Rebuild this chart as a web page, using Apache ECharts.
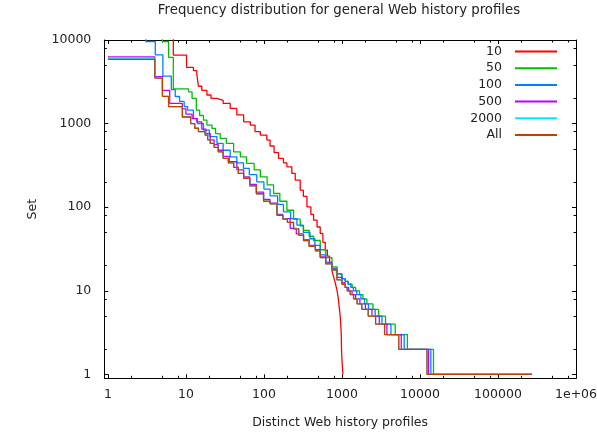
<!DOCTYPE html>
<html><head><meta charset="utf-8">
<script src="https://cdn.jsdelivr.net/npm/echarts@6/dist/echarts.min.js"></script>
<style>html,body{margin:0;padding:0;background:#fff}#c{width:597px;height:432px}</style>
</head><body><div id="c"></div>
<script>
// ---- data (x = distinct profiles, y = set) ----
const seriesNames = ['10', '50', '100', '500', '2000', 'All'];
const seriesColors = ['#ff0000', '#00c000', '#0080ff', '#c000ff', '#00eeee', '#c04000'];

const s10 = [[1, 40000], [6.9, 6600], [10.2, 4700], [12.5, 4300], [13.8, 3900], [14.5, 2800], [16, 2500], [18.6, 2200], [21, 2000], [25, 1900], [30, 1750], [37, 1520], [45, 1270], [55, 1050], [67, 960], [77, 800], [90, 730], [109, 635], [120, 540], [135, 450], [154, 383], [178, 340], [197, 304], [228, 254], [252, 211], [292, 160], [320, 135], [356, 101], [400, 82], [433, 70], [480, 58], [527, 48.6], [570, 38], [611, 30.7], [650, 26], [694, 21.3], [740, 18], [782, 14.7], [820, 12.5], [863, 10.2], [900, 8], [923, 6.4], [950, 5], [970, 3.7], [980, 3], [988, 2], [1000, 1.5], [1030, 1]];

const s50 = [[1, 15000], [5.0, 9600], [6.0, 6200], [6.9, 2600], [10.8, 2400], [12, 2000], [13.6, 1450], [15, 1250], [16.8, 1100], [18.6, 960], [21.6, 877], [24, 760], [27.5, 665], [33, 580], [40.9, 460], [50, 400], [60, 334], [75, 280], [90, 231], [110, 185], [133, 146], [160, 118], [197, 92], [240, 72], [292, 60], [322, 53], [380, 45], [433, 40], [527, 31], [620, 25], [745, 19.4], [870, 16], [1000, 14], [1100, 13], [1200, 12], [1350, 11], [1500, 10], [1680, 9], [1860, 8], [2090, 7], [2500, 6], [2950, 5], [3620, 4], [4820, 3], [6900, 2], [14900, 1], [273000, 1]];

const s100 = [[1, 12000], [3.07, 9600], [4.05, 6650], [5.07, 3700], [6.5, 2550], [7.3, 2110], [8.3, 1840], [9.5, 1600], [10.5, 1450], [12.5, 1150], [14, 1000], [16.8, 836], [20, 700], [25, 580], [30, 480], [37, 401], [45, 340], [54.7, 291], [65, 245], [81, 201], [100, 165], [120, 137], [150, 108], [178, 88], [220, 73], [265, 61], [320, 50], [390, 42], [450, 35], [527, 27], [620, 22], [745, 18.5], [850, 16], [1000, 14], [1100, 13], [1200, 12], [1300, 11], [1400, 10], [1550, 9], [1750, 8], [1950, 7], [2190, 6], [2670, 5], [3260, 4], [4250, 3], [6280, 2], [13800, 1], [273000, 1]];

const s500 = [[1, 6300], [4, 3650], [5, 2500], [6.2, 1750], [9, 1500], [10, 1300], [12, 1150], [13.8, 1050], [16, 860], [18, 760], [20.5, 640], [23, 560], [26, 480], [30, 405], [36, 350], [45, 280], [55, 230], [66, 188], [80, 152], [99, 124], [120, 112], [147, 82], [175, 73], [217, 56], [260, 48], [322, 41], [380, 35], [457, 31], [527, 25.5], [620, 21.5], [745, 18], [863, 14.5], [1000, 12.5], [1100, 11], [1220, 10], [1350, 9], [1500, 8], [1700, 7], [2000, 6], [2425, 5], [3010, 4], [3770, 3], [5760, 2], [12900, 1], [273000, 1]];

const s2000 = [[1, 6000], [4, 3500], [5, 2120], [6, 1600], [9, 1200], [11.5, 1000], [13, 880], [14.5, 800], [17.6, 730], [19, 640], [20.5, 580], [23, 520], [26, 460], [30, 384], [35, 340], [41, 300], [47, 254], [55, 221], [66, 180], [80, 145], [99, 118], [120, 110], [147, 80], [175, 72], [200, 66], [240, 55], [280, 46], [322, 40], [380, 34], [457, 30], [527, 25], [620, 21], [745, 17.7], [863, 13.5], [1000, 12], [1100, 11], [1167, 10], [1277, 9], [1410, 8], [1560, 7], [1800, 6], [2170, 5], [2700, 4], [3520, 3], [5350, 2], [12300, 1], [273000, 1]];

const sAll = [[1, 5870], [4, 3500], [5, 2120], [6, 1600], [9, 1200], [11.5, 1000], [13, 880], [14.5, 800], [17.6, 730], [19, 640], [20.5, 580], [23, 520], [26, 460], [30, 384], [35, 340], [41, 300], [47, 254], [55, 221], [66, 180], [80, 145], [99, 118], [120, 110], [147, 80], [175, 72], [200, 66], [240, 55], [280, 46], [322, 40], [380, 34], [457, 30], [527, 25], [620, 21], [745, 17.7], [863, 13.5], [1000, 12], [1100, 11], [1167, 10], [1277, 9], [1410, 8], [1560, 7], [1800, 6], [2170, 5], [2700, 4], [3520, 3], [5350, 2], [12300, 1], [273000, 1]];

const xMajorTicks = [1, 10, 100, 1000, 10000, 100000, 1000000];
const xTickLabels = ['1', '10', '100', '1000', '10000', '100000', '1e+06'];
const yMajorTicks = [1, 10, 100, 1000, 10000];
const yTickLabels = ['1', '10', '100', '1000', '10000'];
const minorFactors = [2, 5, 8];

const titleText = 'Frequency distribution for general Web history profiles';
const xName = 'Distinct Web history profiles';
const yName = 'Set';

// ---- chart ----
const FONT = 'DejaVu Sans';
const TXT = '#222';
const xMin = 0.9, xMax = 1000000, yMin = 0.9, yMax = 10000;

function minorList(majors) {
  const out = [];
  majors.forEach(m => minorFactors.forEach(f => out.push(m * f)));
  return out;
}
function labelFor(majors, labels) {
  return function (v) {
    const k = Math.round(Math.log10(v));
    const idx = majors.findIndex(m => Math.round(Math.log10(m)) === k);
    return idx >= 0 ? labels[idx] : '';
  };
}

function makeAxis(isX, pos, ticks, len, withLine, withLabels) {
  const ax = {
    type: 'log', logBase: 10, position: pos, gridIndex: 0,
    min: isX ? xMin : yMin, max: isX ? xMax : yMax,
    silent: true,
    axisLine: { show: withLine, onZero: false, lineStyle: { color: '#000', width: 1 } },
    axisTick: { show: true, inside: true, length: len, customValues: ticks, lineStyle: { color: '#000', width: 1 } },
    axisLabel: { show: false },
    splitLine: { show: false },
    minorTick: { show: false },
    minorSplitLine: { show: false }
  };
  if (withLabels) {
    ax.axisLabel = {
      show: true,
      customValues: isX ? xMajorTicks : yMajorTicks,
      formatter: isX ? labelFor(xMajorTicks, xTickLabels) : labelFor(yMajorTicks, yTickLabels),
      fontFamily: FONT, fontSize: 12.5, color: TXT,
      margin: isX ? 10 : 13,
      showMinLabel: true, showMaxLabel: true, hideOverlap: false
    };
    ax.name = isX ? xName : yName;
    ax.nameLocation = 'middle';
    ax.nameGap = isX ? 38 : 65;
    ax.nameTextStyle = { fontFamily: FONT, fontSize: 12.5, color: TXT };
  }
  return ax;
}

const xMinor = minorList(xMajorTicks).filter(v => v <= xMax);
const yMinor = minorList(yMajorTicks).filter(v => v <= yMax);

const seriesData = [s10, s50, s100, s500, s2000, sAll];

const chart = echarts.init(document.getElementById('c'), null, { renderer: 'canvas' });
chart.setOption({
  animation: false,
  backgroundColor: '#fff',
  title: {
    text: titleText, left: 339, top: 4, textAlign: 'center', padding: 0,
    textStyle: { fontFamily: FONT, fontSize: 13.3, fontWeight: 'normal', color: TXT }
  },
  legend: {
    orient: 'vertical', right: 39, top: 45, align: 'right', padding: 0,
    itemWidth: 42, itemHeight: 14, itemGap: 3.7, selectedMode: false,
    data: seriesNames,
    itemStyle: { opacity: 0, borderWidth: 0 },
    textStyle: { fontFamily: FONT, fontSize: 12.5, color: TXT, padding: [0, 8, 0, 0] }
  },
  grid: { left: 104.3, right: 21, top: 40, bottom: 53.7, containLabel: false, outerBoundsMode: 'none' },
  xAxis: [
    makeAxis(true, 'bottom', xMajorTicks, 4, true, true),
    makeAxis(true, 'bottom', xMinor, 2.5, false, false),
    makeAxis(true, 'top', xMajorTicks, 4, true, false),
    makeAxis(true, 'top', xMinor, 2.5, false, false)
  ],
  yAxis: [
    makeAxis(false, 'left', yMajorTicks, 4, true, true),
    makeAxis(false, 'left', yMinor, 2.5, false, false),
    makeAxis(false, 'right', yMajorTicks, 4, true, false),
    makeAxis(false, 'right', yMinor, 2.5, false, false)
  ],
  series: seriesData.map((d, i) => ({
    type: 'line', name: seriesNames[i], data: d, step: 'end',
    xAxisIndex: 0, yAxisIndex: 0,
    showSymbol: false, symbol: 'none', clip: true, silent: true,
    lineStyle: { width: 1.3, color: seriesColors[i] },
    itemStyle: { color: seriesColors[i] }
  }))
});
</script></body></html>
